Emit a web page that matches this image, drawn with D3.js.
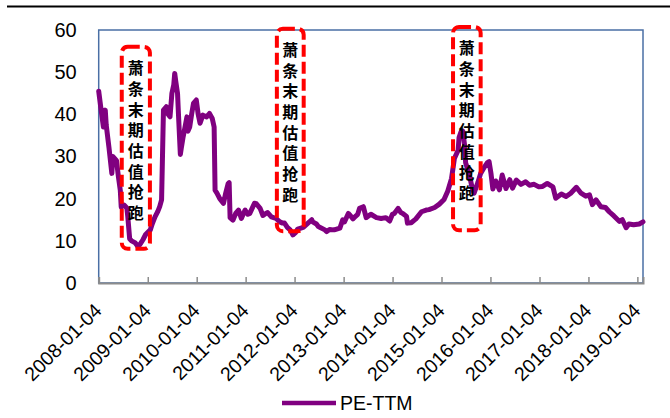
<!DOCTYPE html>
<html>
<head>
<meta charset="utf-8">
<script src="https://cdn.jsdelivr.net/npm/d3@7/dist/d3.min.js"></script>
<style>
  html, body { margin: 0; padding: 0; background: #fff; }
  svg { display: block; }
</style>
</head>
<body>
<svg id="chart" width="670" height="418"></svg>
<script>
// Weekly PE-TTM readings (Friday dates)
const dates = [
  "2008-01-04","2008-01-18","2008-02-08","2008-02-22","2008-02-29","2008-03-21","2008-04-11","2008-04-18",
  "2008-05-16","2008-05-30","2008-06-13","2008-06-20","2008-07-11","2008-08-01","2008-08-08","2008-08-22",
  "2008-09-05","2008-10-03","2008-10-24","2008-11-14","2008-11-28","2008-12-19","2009-01-23","2009-02-06",
  "2009-02-27","2009-03-20","2009-04-03","2009-04-17","2009-05-01","2009-05-22","2009-06-05","2009-06-19",
  "2009-07-03","2009-07-17","2009-07-24","2009-07-31","2009-08-14","2009-08-21","2009-09-04","2009-09-11",
  "2009-09-25","2009-10-09","2009-10-23","2009-10-30","2009-11-13","2009-11-27","2009-12-11","2010-01-01",
  "2010-01-15","2010-01-29","2010-02-19","2010-03-19","2010-04-09","2010-04-30","2010-05-14","2010-05-21",
  "2010-06-04","2010-06-25","2010-07-23","2010-08-06","2010-08-27","2010-09-03","2010-09-10","2010-10-01",
  "2010-10-22","2010-11-12","2010-12-03","2010-12-31","2011-01-21","2011-02-04","2011-03-11","2011-03-25",
  "2011-04-22","2011-05-13","2011-06-03","2011-06-17","2011-07-15","2011-08-19","2011-09-16","2011-10-07",
  "2011-10-21","2011-11-11","2011-12-02","2011-12-23","2012-01-13","2012-01-27","2012-03-09","2012-04-13",
  "2012-05-11","2012-05-18","2012-06-15","2012-06-29","2012-07-06","2012-08-17","2012-08-31","2012-09-21",
  "2012-10-19","2012-10-26","2012-12-07","2012-12-28","2013-01-11","2013-02-08","2013-02-15","2013-03-15",
  "2013-03-29","2013-04-19","2013-05-03","2013-05-31","2013-06-21","2013-07-26","2013-09-06","2013-10-11",
  "2013-11-15","2013-12-13","2014-01-03","2014-01-17","2014-02-14","2014-03-07","2014-03-21","2014-04-18",
  "2014-04-25","2014-05-23","2014-06-27","2014-08-08","2014-09-12","2014-10-03","2014-11-14","2014-12-19",
  "2015-01-23","2015-02-20","2015-03-20","2015-04-10","2015-05-08","2015-05-15","2015-05-29","2015-06-12",
  "2015-06-26","2015-07-03","2015-07-31","2015-08-21","2015-09-04","2015-10-02","2015-10-23","2015-11-20",
  "2015-12-11","2015-12-25","2016-01-08","2016-01-22","2016-02-12","2016-03-11","2016-04-01","2016-04-29",
  "2016-05-27","2016-06-17","2016-07-15","2016-08-19","2016-09-23","2016-10-21","2016-11-25","2016-12-30",
  "2017-01-27","2017-03-03","2017-04-14","2017-05-05","2017-06-16","2017-07-21","2017-08-25","2017-10-06",
  "2017-11-10","2017-12-15","2018-01-12","2018-02-02","2018-03-02","2018-04-06","2018-05-11","2018-06-08",
  "2018-07-13","2018-08-24","2018-09-14","2018-10-12","2018-11-02","2018-12-07","2019-01-18","2019-02-15"
];
const peTTM = [
  45.5, 42, 37, 41, 37.5, 32, 26, 30,
  29, 25.2, 22, 18, 18.5, 17.8, 15.7, 10.5,
  10, 9.5, 8.6, 9.5, 10.2, 11.5, 12.6, 14,
  15.7, 17, 18.1, 19.7, 41, 41.8, 40, 39.4,
  45, 47, 49.7, 48, 45, 40, 30.5, 32,
  34.7, 37, 39.4, 36, 37, 40, 42.6, 43.4,
  40, 37.9, 39.8, 39.4, 40.2, 39, 37, 22,
  21.3, 20, 18.9, 21, 23.6, 23.8, 15.5, 14.9,
  16.5, 17.3, 15.3, 17.3, 16.3, 16.5, 18.9, 18.8,
  17.7, 16, 16.5, 16.7, 15.7, 15.3, 14.5, 14.2,
  14.2, 13.2, 12.6, 11.4, 12, 12.8, 13.2, 14.2,
  15, 14.5, 14, 13.4, 13.3, 12.6, 12.2, 12.7,
  12.6, 12.6, 13, 15, 14.5, 16.5, 16.3, 15.2,
  15.7, 16.3, 17.7, 18.1, 15.5, 16.3, 15.5, 15.3,
  15.5, 14.7, 16.3, 16.5, 17.7, 16.7, 16.5, 15.8,
  14.2, 14.3, 15.2, 16.9, 17.3, 17.4, 17.9, 18.7,
  19.8, 21.8, 24.8, 29.5, 31.5, 34.5, 35.8, 36,
  32.5, 28.5, 25.6, 22.5, 21.3, 23.8, 26, 27.5,
  28.5, 28.8, 26, 22.3, 24.2, 22.1, 25.6, 22.4,
  24.5, 22.5, 24.4, 23.4, 24, 23.2, 23.4, 22.8,
  22.9, 23.6, 22.8, 20.1, 21.1, 20.5, 21.3, 22.7,
  21.3, 20.6, 20.9, 18.6, 19.7, 18.1, 17.9, 16.9,
  15.9, 14.6, 15, 13.1, 14, 13.8, 14, 14.5
];

const xTickLabels = [
  "2008-01-04","2009-01-04","2010-01-04","2011-01-04","2012-01-04","2013-01-04",
  "2014-01-04","2015-01-04","2016-01-04","2017-01-04","2018-01-04","2019-01-04"
];
const yTicks = [0, 10, 20, 30, 40, 50, 60];
const seriesName = "PE-TTM";

// Highlighted windows: start date, end date, upper and lower PE bound
const noteText = "萧条末期估值抢跑";
const noteStart = ["2008-06-24", "2011-08-25", "2015-03-31"];
const noteEnd   = ["2009-01-20", "2012-03-12", "2015-10-23"];
const noteTop   = [56.0, 60.3, 60.7];
const noteBottom = [8.1, 12.3, 12.5];

const parse = d3.timeParse("%Y-%m-%d");
const series = dates.map((d, i) => ({ date: parse(d), value: peTTM[i] }));

const svg = d3.select("#chart");
const plotL = 98.7, plotR = 643, plotT = 30, plotB = 283;

const x = d3.scaleTime()
  .domain([parse("2008-01-04"), parse("2019-02-15")])
  .range([plotL, plotR]);
const y = d3.scaleLinear().domain([0, 60]).range([plotB, plotT]);

// rule across the top of the page
svg.append("line")
  .attr("x1", 7).attr("x2", 670).attr("y1", 6.5).attr("y2", 6.5)
  .attr("stroke", "#000").attr("stroke-width", 1.8);

// plot frame
svg.append("rect")
  .attr("x", plotL).attr("y", y(60))
  .attr("width", plotR - plotL).attr("height", y(0) - y(60))
  .attr("fill", "none").attr("stroke", "#4A6FA5").attr("stroke-width", 1.5);

// y axis labels
const yAxis = svg.append("g")
  .attr("transform", `translate(${plotL},0)`)
  .call(d3.axisLeft(y).tickValues(yTicks).tickSize(0).tickPadding(22));
yAxis.select(".domain").remove();
yAxis.selectAll("text")
  .attr("font-family", "'Liberation Sans', Arial, sans-serif")
  .attr("font-size", 20).attr("fill", "#000");

// x axis: ticks point into the plot, labels rotated
const xAxis = svg.append("g")
  .attr("transform", `translate(0,${plotB})`)
  .call(d3.axisBottom(x)
    .tickValues(xTickLabels.map(parse))
    .tickSize(-6)
    .tickFormat(d3.timeFormat("%Y-%m-%d")));
xAxis.select(".domain")
  .attr("stroke", "#8C8C8C").attr("stroke-width", 2);
xAxis.selectAll(".tick line")
  .attr("stroke", "#8C8C8C").attr("stroke-width", 1.5);
xAxis.selectAll(".tick text")
  .attr("font-family", "'Liberation Sans', Arial, sans-serif")
  .attr("font-size", 19.5).attr("fill", "#000")
  .attr("text-anchor", "end")
  .attr("y", 0).attr("dy", "0.35em")
  .attr("transform", "translate(-1,24) rotate(-45)");

// PE-TTM line
const line = d3.line()
  .x(d => x(d.date))
  .y(d => y(d.value));
svg.append("path")
  .datum(series)
  .attr("d", line)
  .attr("fill", "none")
  .attr("stroke", "#800080")
  .attr("stroke-width", 5)
  .attr("stroke-linejoin", "round")
  .attr("stroke-linecap", "round");

// dashed callout boxes with the note stacked one character per row
noteStart.forEach((s, i) => {
  const x0 = x(parse(s)), x1 = x(parse(noteEnd[i]));
  const y0 = y(noteTop[i]), y1 = y(noteBottom[i]);
  const g = svg.append("g");
  g.append("rect")
    .attr("x", x0).attr("y", y0)
    .attr("width", x1 - x0).attr("height", y1 - y0)
    .attr("rx", 6).attr("ry", 6)
    .attr("fill", "none")
    .attr("stroke", "#FF0000")
    .attr("stroke-width", 4)
    .attr("stroke-dasharray", "12,5");
  const cx = (x0 + x1) / 2;
  g.selectAll("text")
    .data(Array.from(noteText))
    .join("text")
    .attr("x", cx)
    .attr("y", (d, k) => y0 + 21.5 + k * 20.7)
    .attr("dy", "0.36em")
    .attr("text-anchor", "middle")
    .attr("font-family", "'Noto Sans CJK SC', sans-serif")
    .attr("font-weight", "bold")
    .attr("font-size", 16)
    .attr("fill", "#000")
    .text(d => d);
});

// legend
const lg = svg.append("g");
lg.append("line")
  .attr("x1", 282).attr("x2", 336).attr("y1", 403).attr("y2", 403)
  .attr("stroke", "#800080").attr("stroke-width", 4.5);
lg.append("text")
  .attr("x", 340).attr("y", 410)
  .attr("font-family", "'Liberation Sans', Arial, sans-serif")
  .attr("font-size", 19.5).attr("fill", "#000")
  .text(seriesName);
</script>
</body>
</html>
